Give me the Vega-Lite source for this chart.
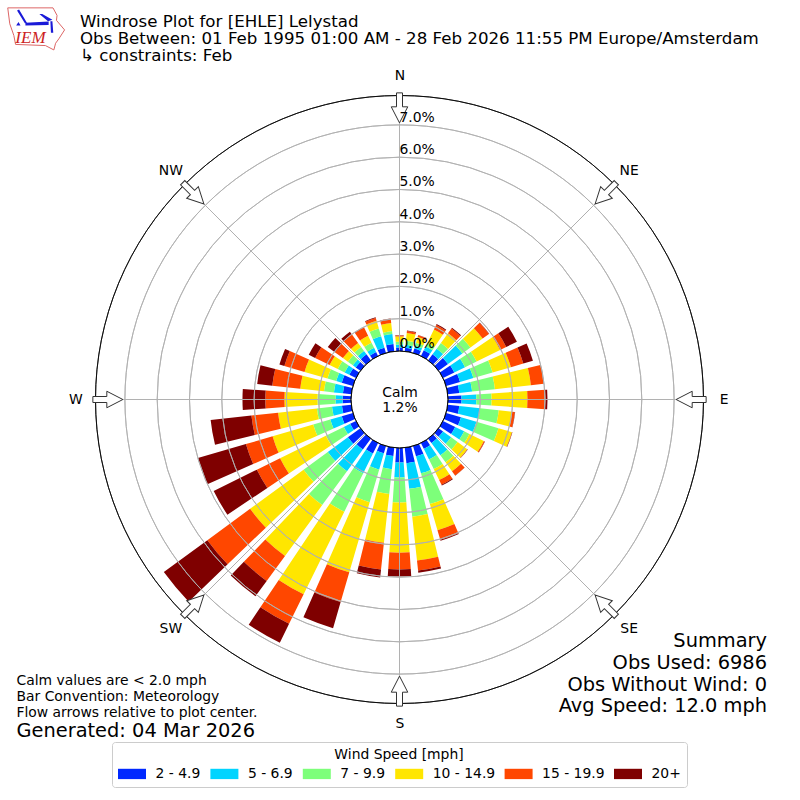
{
  "$schema": "https://vega.github.io/schema/vega-lite/v6.json",
  "width": 799,
  "height": 799,
  "padding": 0,
  "autosize": "none",
  "background": "white",
  "config": {"font": "DejaVu Sans", "view": {"stroke": null}},
  "title": {
    "text": ["Windrose Plot for [EHLE] Lelystad", "Obs Between: 01 Feb 1995 01:00 AM - 28 Feb 2026 11:55 PM Europe/Amsterdam", "\u00a0\u00a0↳ constraints: Feb"],
    "anchor": "start",
    "frame": "group",
    "dx": 80,
    "offset": -65,
    "font": "DejaVu Sans",
    "fontSize": 16.67,
    "fontWeight": "normal",
    "lineHeight": 17.4,
    "color": "black"
  },
  "datasets": {
    "bars": [
      {"dir":0,"from":-3.8,"to":3.8,"speed":"2 - 4.9","lo":0,"hi":0.11},{"dir":0,"from":-3.8,"to":3.8,"speed":"5 - 6.9","lo":0.11,"hi":0.2},{"dir":0,"from":-3.8,"to":3.8,"speed":"7 - 9.9","lo":0.2,"hi":0.29},{"dir":0,"from":-3.8,"to":3.8,"speed":"10 - 14.9","lo":0.29,"hi":0.45},{"dir":0,"from":-3.8,"to":3.8,"speed":"15 - 19.9","lo":0.45,"hi":0.48},{"dir":0,"from":-3.8,"to":3.8,"speed":"20+","lo":0.48,"hi":0.49},
      {"dir":10,"from":6.2,"to":13.8,"speed":"2 - 4.9","lo":0,"hi":0.11},{"dir":10,"from":6.2,"to":13.8,"speed":"5 - 6.9","lo":0.11,"hi":0.2},{"dir":10,"from":6.2,"to":13.8,"speed":"7 - 9.9","lo":0.2,"hi":0.33},{"dir":10,"from":6.2,"to":13.8,"speed":"10 - 14.9","lo":0.33,"hi":0.57},{"dir":10,"from":6.2,"to":13.8,"speed":"15 - 19.9","lo":0.57,"hi":0.63},{"dir":10,"from":6.2,"to":13.8,"speed":"20+","lo":0.63,"hi":0.65},
      {"dir":20,"from":16.2,"to":23.8,"speed":"2 - 4.9","lo":0,"hi":0.14},{"dir":20,"from":16.2,"to":23.8,"speed":"5 - 6.9","lo":0.14,"hi":0.23},{"dir":20,"from":16.2,"to":23.8,"speed":"7 - 9.9","lo":0.23,"hi":0.33},{"dir":20,"from":16.2,"to":23.8,"speed":"10 - 14.9","lo":0.33,"hi":0.51},{"dir":20,"from":16.2,"to":23.8,"speed":"15 - 19.9","lo":0.51,"hi":0.57},{"dir":20,"from":16.2,"to":23.8,"speed":"20+","lo":0.57,"hi":0.58},
      {"dir":30,"from":26.2,"to":33.8,"speed":"2 - 4.9","lo":0,"hi":0.2},{"dir":30,"from":26.2,"to":33.8,"speed":"5 - 6.9","lo":0.2,"hi":0.33},{"dir":30,"from":26.2,"to":33.8,"speed":"7 - 9.9","lo":0.33,"hi":0.45},{"dir":30,"from":26.2,"to":33.8,"speed":"10 - 14.9","lo":0.45,"hi":0.91},{"dir":30,"from":26.2,"to":33.8,"speed":"15 - 19.9","lo":0.91,"hi":1.07},{"dir":30,"from":26.2,"to":33.8,"speed":"20+","lo":1.07,"hi":1.1},
      {"dir":40,"from":36.2,"to":43.8,"speed":"2 - 4.9","lo":0,"hi":0.23},{"dir":40,"from":36.2,"to":43.8,"speed":"5 - 6.9","lo":0.23,"hi":0.45},{"dir":40,"from":36.2,"to":43.8,"speed":"7 - 9.9","lo":0.45,"hi":0.67},{"dir":40,"from":36.2,"to":43.8,"speed":"10 - 14.9","lo":0.67,"hi":1.04},{"dir":40,"from":36.2,"to":43.8,"speed":"15 - 19.9","lo":1.04,"hi":1.22},{"dir":40,"from":36.2,"to":43.8,"speed":"20+","lo":1.22,"hi":1.25},
      {"dir":50,"from":46.2,"to":53.8,"speed":"2 - 4.9","lo":0,"hi":0.36},{"dir":50,"from":46.2,"to":53.8,"speed":"5 - 6.9","lo":0.36,"hi":0.91},{"dir":50,"from":46.2,"to":53.8,"speed":"7 - 9.9","lo":0.91,"hi":1.22},{"dir":50,"from":46.2,"to":53.8,"speed":"10 - 14.9","lo":1.22,"hi":1.69},{"dir":50,"from":46.2,"to":53.8,"speed":"15 - 19.9","lo":1.69,"hi":1.93},{"dir":50,"from":46.2,"to":53.8,"speed":"20+","lo":1.93,"hi":1.94},
      {"dir":60,"from":56.2,"to":63.8,"speed":"2 - 4.9","lo":0,"hi":0.39},{"dir":60,"from":56.2,"to":63.8,"speed":"5 - 6.9","lo":0.39,"hi":0.76},{"dir":60,"from":56.2,"to":63.8,"speed":"7 - 9.9","lo":0.76,"hi":1.16},{"dir":60,"from":56.2,"to":63.8,"speed":"10 - 14.9","lo":1.16,"hi":1.97},{"dir":60,"from":56.2,"to":63.8,"speed":"15 - 19.9","lo":1.97,"hi":2.18},{"dir":60,"from":56.2,"to":63.8,"speed":"20+","lo":2.18,"hi":2.55},
      {"dir":70,"from":66.2,"to":73.8,"speed":"2 - 4.9","lo":0,"hi":0.45},{"dir":70,"from":66.2,"to":73.8,"speed":"5 - 6.9","lo":0.45,"hi":0.88},{"dir":70,"from":66.2,"to":73.8,"speed":"7 - 9.9","lo":0.88,"hi":1.5},{"dir":70,"from":66.2,"to":73.8,"speed":"10 - 14.9","lo":1.5,"hi":2.09},{"dir":70,"from":66.2,"to":73.8,"speed":"15 - 19.9","lo":2.09,"hi":2.49},{"dir":70,"from":66.2,"to":73.8,"speed":"20+","lo":2.49,"hi":2.8},
      {"dir":80,"from":76.2,"to":83.8,"speed":"2 - 4.9","lo":0,"hi":0.36},{"dir":80,"from":76.2,"to":83.8,"speed":"5 - 6.9","lo":0.36,"hi":0.76},{"dir":80,"from":76.2,"to":83.8,"speed":"7 - 9.9","lo":0.76,"hi":1.47},{"dir":80,"from":76.2,"to":83.8,"speed":"10 - 14.9","lo":1.47,"hi":2.59},{"dir":80,"from":76.2,"to":83.8,"speed":"15 - 19.9","lo":2.59,"hi":2.99},{"dir":80,"from":76.2,"to":83.8,"speed":"20+","lo":2.99,"hi":3.0},
      {"dir":90,"from":86.2,"to":93.8,"speed":"2 - 4.9","lo":0,"hi":0.42},{"dir":90,"from":86.2,"to":93.8,"speed":"5 - 6.9","lo":0.42,"hi":0.88},{"dir":90,"from":86.2,"to":93.8,"speed":"7 - 9.9","lo":0.88,"hi":1.35},{"dir":90,"from":86.2,"to":93.8,"speed":"10 - 14.9","lo":1.35,"hi":2.46},{"dir":90,"from":86.2,"to":93.8,"speed":"15 - 19.9","lo":2.46,"hi":3.02},{"dir":90,"from":86.2,"to":93.8,"speed":"20+","lo":3.02,"hi":3.08},
      {"dir":100,"from":96.2,"to":103.8,"speed":"2 - 4.9","lo":0,"hi":0.36},{"dir":100,"from":96.2,"to":103.8,"speed":"5 - 6.9","lo":0.36,"hi":1.01},{"dir":100,"from":96.2,"to":103.8,"speed":"7 - 9.9","lo":1.01,"hi":1.59},{"dir":100,"from":96.2,"to":103.8,"speed":"10 - 14.9","lo":1.59,"hi":2.0},{"dir":100,"from":96.2,"to":103.8,"speed":"15 - 19.9","lo":2.0,"hi":2.09},{"dir":100,"from":96.2,"to":103.8,"speed":"20+","lo":2.09,"hi":2.1},
      {"dir":110,"from":106.2,"to":113.8,"speed":"2 - 4.9","lo":0,"hi":0.48},{"dir":110,"from":106.2,"to":113.8,"speed":"5 - 6.9","lo":0.48,"hi":0.98},{"dir":110,"from":106.2,"to":113.8,"speed":"7 - 9.9","lo":0.98,"hi":1.69},{"dir":110,"from":106.2,"to":113.8,"speed":"10 - 14.9","lo":1.69,"hi":2.12},{"dir":110,"from":106.2,"to":113.8,"speed":"15 - 19.9","lo":2.12,"hi":2.13},{"dir":110,"from":106.2,"to":113.8,"speed":"20+","lo":2.13,"hi":2.14},
      {"dir":120,"from":116.2,"to":123.8,"speed":"2 - 4.9","lo":0,"hi":0.42},{"dir":120,"from":116.2,"to":123.8,"speed":"5 - 6.9","lo":0.42,"hi":0.73},{"dir":120,"from":116.2,"to":123.8,"speed":"7 - 9.9","lo":0.73,"hi":0.91},{"dir":120,"from":116.2,"to":123.8,"speed":"10 - 14.9","lo":0.91,"hi":1.41},{"dir":120,"from":116.2,"to":123.8,"speed":"15 - 19.9","lo":1.41,"hi":1.44},{"dir":120,"from":116.2,"to":123.8,"speed":"20+","lo":1.44,"hi":1.45},
      {"dir":130,"from":126.2,"to":133.8,"speed":"2 - 4.9","lo":0,"hi":0.17},{"dir":130,"from":126.2,"to":133.8,"speed":"5 - 6.9","lo":0.17,"hi":0.48},{"dir":130,"from":126.2,"to":133.8,"speed":"7 - 9.9","lo":0.48,"hi":0.73},{"dir":130,"from":126.2,"to":133.8,"speed":"10 - 14.9","lo":0.73,"hi":1.1},{"dir":130,"from":126.2,"to":133.8,"speed":"15 - 19.9","lo":1.1,"hi":1.11},{"dir":130,"from":126.2,"to":133.8,"speed":"20+","lo":1.11,"hi":1.12},
      {"dir":140,"from":136.2,"to":143.8,"speed":"2 - 4.9","lo":0,"hi":0.17},{"dir":140,"from":136.2,"to":143.8,"speed":"5 - 6.9","lo":0.17,"hi":0.64},{"dir":140,"from":136.2,"to":143.8,"speed":"7 - 9.9","lo":0.64,"hi":0.91},{"dir":140,"from":136.2,"to":143.8,"speed":"10 - 14.9","lo":0.91,"hi":1.25},{"dir":140,"from":136.2,"to":143.8,"speed":"15 - 19.9","lo":1.25,"hi":1.41},{"dir":140,"from":136.2,"to":143.8,"speed":"20+","lo":1.41,"hi":1.42},
      {"dir":150,"from":146.2,"to":153.8,"speed":"2 - 4.9","lo":0,"hi":0.2},{"dir":150,"from":146.2,"to":153.8,"speed":"5 - 6.9","lo":0.2,"hi":0.57},{"dir":150,"from":146.2,"to":153.8,"speed":"7 - 9.9","lo":0.57,"hi":0.9},{"dir":150,"from":146.2,"to":153.8,"speed":"10 - 14.9","lo":0.9,"hi":1.28},{"dir":150,"from":146.2,"to":153.8,"speed":"15 - 19.9","lo":1.28,"hi":1.44},{"dir":150,"from":146.2,"to":153.8,"speed":"20+","lo":1.44,"hi":1.47},
      {"dir":160,"from":156.2,"to":163.8,"speed":"2 - 4.9","lo":0,"hi":0.33},{"dir":160,"from":156.2,"to":163.8,"speed":"5 - 6.9","lo":0.33,"hi":0.88},{"dir":160,"from":156.2,"to":163.8,"speed":"7 - 9.9","lo":0.88,"hi":1.87},{"dir":160,"from":156.2,"to":163.8,"speed":"10 - 14.9","lo":1.87,"hi":2.71},{"dir":160,"from":156.2,"to":163.8,"speed":"15 - 19.9","lo":2.71,"hi":3.02},{"dir":160,"from":156.2,"to":163.8,"speed":"20+","lo":3.02,"hi":3.05},
      {"dir":170,"from":166.2,"to":173.8,"speed":"2 - 4.9","lo":0,"hi":0.48},{"dir":170,"from":166.2,"to":173.8,"speed":"5 - 6.9","lo":0.48,"hi":1.28},{"dir":170,"from":166.2,"to":173.8,"speed":"7 - 9.9","lo":1.28,"hi":2.15},{"dir":170,"from":166.2,"to":173.8,"speed":"10 - 14.9","lo":2.15,"hi":3.51},{"dir":170,"from":166.2,"to":173.8,"speed":"15 - 19.9","lo":3.51,"hi":3.82},{"dir":170,"from":166.2,"to":173.8,"speed":"20+","lo":3.82,"hi":3.89},
      {"dir":180,"from":176.2,"to":183.8,"speed":"2 - 4.9","lo":0,"hi":0.45},{"dir":180,"from":176.2,"to":183.8,"speed":"5 - 6.9","lo":0.45,"hi":0.91},{"dir":180,"from":176.2,"to":183.8,"speed":"7 - 9.9","lo":0.91,"hi":1.69},{"dir":180,"from":176.2,"to":183.8,"speed":"10 - 14.9","lo":1.69,"hi":3.24},{"dir":180,"from":176.2,"to":183.8,"speed":"15 - 19.9","lo":3.24,"hi":3.76},{"dir":180,"from":176.2,"to":183.8,"speed":"20+","lo":3.76,"hi":3.98},
      {"dir":190,"from":186.2,"to":193.8,"speed":"2 - 4.9","lo":0,"hi":0.26},{"dir":190,"from":186.2,"to":193.8,"speed":"5 - 6.9","lo":0.26,"hi":0.67},{"dir":190,"from":186.2,"to":193.8,"speed":"7 - 9.9","lo":0.67,"hi":1.44},{"dir":190,"from":186.2,"to":193.8,"speed":"10 - 14.9","lo":1.44,"hi":2.96},{"dir":190,"from":186.2,"to":193.8,"speed":"15 - 19.9","lo":2.96,"hi":3.79},{"dir":190,"from":186.2,"to":193.8,"speed":"20+","lo":3.79,"hi":4.04},
      {"dir":200,"from":196.2,"to":203.8,"speed":"2 - 4.9","lo":0,"hi":0.23},{"dir":200,"from":196.2,"to":203.8,"speed":"5 - 6.9","lo":0.23,"hi":0.76},{"dir":200,"from":196.2,"to":203.8,"speed":"7 - 9.9","lo":0.76,"hi":1.81},{"dir":200,"from":196.2,"to":203.8,"speed":"10 - 14.9","lo":1.81,"hi":4.07},{"dir":200,"from":196.2,"to":203.8,"speed":"15 - 19.9","lo":4.07,"hi":5.03},{"dir":200,"from":196.2,"to":203.8,"speed":"20+","lo":5.03,"hi":5.87},
      {"dir":210,"from":206.2,"to":213.8,"speed":"2 - 4.9","lo":0,"hi":0.36},{"dir":210,"from":206.2,"to":213.8,"speed":"5 - 6.9","lo":0.36,"hi":1.04},{"dir":210,"from":206.2,"to":213.8,"speed":"7 - 9.9","lo":1.04,"hi":2.37},{"dir":210,"from":206.2,"to":213.8,"speed":"10 - 14.9","lo":2.37,"hi":5.22},{"dir":210,"from":206.2,"to":213.8,"speed":"15 - 19.9","lo":5.22,"hi":6.24},{"dir":210,"from":206.2,"to":213.8,"speed":"20+","lo":6.24,"hi":6.89},
      {"dir":220,"from":216.2,"to":223.8,"speed":"2 - 4.9","lo":0,"hi":0.42},{"dir":220,"from":216.2,"to":223.8,"speed":"5 - 6.9","lo":0.42,"hi":1.25},{"dir":220,"from":216.2,"to":223.8,"speed":"7 - 9.9","lo":1.25,"hi":2.55},{"dir":220,"from":216.2,"to":223.8,"speed":"10 - 14.9","lo":2.55,"hi":4.5},{"dir":220,"from":216.2,"to":223.8,"speed":"15 - 19.9","lo":4.5,"hi":5.46},{"dir":220,"from":216.2,"to":223.8,"speed":"20+","lo":5.46,"hi":6.05},
      {"dir":230,"from":226.2,"to":233.8,"speed":"2 - 4.9","lo":0,"hi":0.48},{"dir":230,"from":226.2,"to":233.8,"speed":"5 - 6.9","lo":0.48,"hi":1.25},{"dir":230,"from":226.2,"to":233.8,"speed":"7 - 9.9","lo":1.25,"hi":2.18},{"dir":230,"from":226.2,"to":233.8,"speed":"10 - 14.9","lo":2.18,"hi":4.23},{"dir":230,"from":226.2,"to":233.8,"speed":"15 - 19.9","lo":4.23,"hi":5.87},{"dir":230,"from":226.2,"to":233.8,"speed":"20+","lo":5.87,"hi":7.54},
      {"dir":240,"from":236.2,"to":243.8,"speed":"2 - 4.9","lo":0,"hi":0.2},{"dir":240,"from":236.2,"to":243.8,"speed":"5 - 6.9","lo":0.2,"hi":0.42},{"dir":240,"from":236.2,"to":243.8,"speed":"7 - 9.9","lo":0.42,"hi":1.04},{"dir":240,"from":236.2,"to":243.8,"speed":"10 - 14.9","lo":1.04,"hi":2.62},{"dir":240,"from":236.2,"to":243.8,"speed":"15 - 19.9","lo":2.62,"hi":3.42},{"dir":240,"from":236.2,"to":243.8,"speed":"20+","lo":3.42,"hi":4.91},
      {"dir":250,"from":246.2,"to":253.8,"speed":"2 - 4.9","lo":0,"hi":0.36},{"dir":250,"from":246.2,"to":253.8,"speed":"5 - 6.9","lo":0.36,"hi":0.73},{"dir":250,"from":246.2,"to":253.8,"speed":"7 - 9.9","lo":0.73,"hi":1.28},{"dir":250,"from":246.2,"to":253.8,"speed":"10 - 14.9","lo":1.28,"hi":2.59},{"dir":250,"from":246.2,"to":253.8,"speed":"15 - 19.9","lo":2.59,"hi":3.45},{"dir":250,"from":246.2,"to":253.8,"speed":"20+","lo":3.45,"hi":5.0},
      {"dir":260,"from":256.2,"to":263.8,"speed":"2 - 4.9","lo":0,"hi":0.29},{"dir":260,"from":256.2,"to":263.8,"speed":"5 - 6.9","lo":0.29,"hi":0.6},{"dir":260,"from":256.2,"to":263.8,"speed":"7 - 9.9","lo":0.6,"hi":1.07},{"dir":260,"from":256.2,"to":263.8,"speed":"10 - 14.9","lo":1.07,"hi":2.28},{"dir":260,"from":256.2,"to":263.8,"speed":"15 - 19.9","lo":2.28,"hi":3.11},{"dir":260,"from":256.2,"to":263.8,"speed":"20+","lo":3.11,"hi":4.38},
      {"dir":270,"from":266.2,"to":273.8,"speed":"2 - 4.9","lo":0,"hi":0.26},{"dir":270,"from":266.2,"to":273.8,"speed":"5 - 6.9","lo":0.26,"hi":0.48},{"dir":270,"from":266.2,"to":273.8,"speed":"7 - 9.9","lo":0.48,"hi":1.04},{"dir":270,"from":266.2,"to":273.8,"speed":"10 - 14.9","lo":1.04,"hi":2.06},{"dir":270,"from":266.2,"to":273.8,"speed":"15 - 19.9","lo":2.06,"hi":2.65},{"dir":270,"from":266.2,"to":273.8,"speed":"20+","lo":2.65,"hi":3.36},
      {"dir":280,"from":276.2,"to":283.8,"speed":"2 - 4.9","lo":0,"hi":0.26},{"dir":280,"from":276.2,"to":283.8,"speed":"5 - 6.9","lo":0.26,"hi":0.54},{"dir":280,"from":276.2,"to":283.8,"speed":"7 - 9.9","lo":0.54,"hi":0.85},{"dir":280,"from":276.2,"to":283.8,"speed":"10 - 14.9","lo":0.85,"hi":1.59},{"dir":280,"from":276.2,"to":283.8,"speed":"15 - 19.9","lo":1.59,"hi":2.46},{"dir":280,"from":276.2,"to":283.8,"speed":"20+","lo":2.46,"hi":2.93},
      {"dir":290,"from":286.2,"to":293.8,"speed":"2 - 4.9","lo":0,"hi":0.36},{"dir":290,"from":286.2,"to":293.8,"speed":"5 - 6.9","lo":0.36,"hi":0.54},{"dir":290,"from":286.2,"to":293.8,"speed":"7 - 9.9","lo":0.54,"hi":0.82},{"dir":290,"from":286.2,"to":293.8,"speed":"10 - 14.9","lo":0.82,"hi":1.56},{"dir":290,"from":286.2,"to":293.8,"speed":"15 - 19.9","lo":1.56,"hi":2.21},{"dir":290,"from":286.2,"to":293.8,"speed":"20+","lo":2.21,"hi":2.37},
      {"dir":300,"from":296.2,"to":303.8,"speed":"2 - 4.9","lo":0,"hi":0.23},{"dir":300,"from":296.2,"to":303.8,"speed":"5 - 6.9","lo":0.23,"hi":0.39},{"dir":300,"from":296.2,"to":303.8,"speed":"7 - 9.9","lo":0.39,"hi":0.63},{"dir":300,"from":296.2,"to":303.8,"speed":"10 - 14.9","lo":0.63,"hi":0.91},{"dir":300,"from":296.2,"to":303.8,"speed":"15 - 19.9","lo":0.91,"hi":1.41},{"dir":300,"from":296.2,"to":303.8,"speed":"20+","lo":1.41,"hi":1.63},
      {"dir":310,"from":306.2,"to":313.8,"speed":"2 - 4.9","lo":0,"hi":0.18},{"dir":310,"from":306.2,"to":313.8,"speed":"5 - 6.9","lo":0.18,"hi":0.29},{"dir":310,"from":306.2,"to":313.8,"speed":"7 - 9.9","lo":0.29,"hi":0.48},{"dir":310,"from":306.2,"to":313.8,"speed":"10 - 14.9","lo":0.48,"hi":0.67},{"dir":310,"from":306.2,"to":313.8,"speed":"15 - 19.9","lo":0.67,"hi":0.98},{"dir":310,"from":306.2,"to":313.8,"speed":"20+","lo":0.98,"hi":1.25},
      {"dir":320,"from":316.2,"to":323.8,"speed":"2 - 4.9","lo":0,"hi":0.23},{"dir":320,"from":316.2,"to":323.8,"speed":"5 - 6.9","lo":0.23,"hi":0.36},{"dir":320,"from":316.2,"to":323.8,"speed":"7 - 9.9","lo":0.36,"hi":0.51},{"dir":320,"from":316.2,"to":323.8,"speed":"10 - 14.9","lo":0.51,"hi":0.67},{"dir":320,"from":316.2,"to":323.8,"speed":"15 - 19.9","lo":0.67,"hi":1.01},{"dir":320,"from":316.2,"to":323.8,"speed":"20+","lo":1.01,"hi":1.1},
      {"dir":330,"from":326.2,"to":333.8,"speed":"2 - 4.9","lo":0,"hi":0.14},{"dir":330,"from":326.2,"to":333.8,"speed":"5 - 6.9","lo":0.14,"hi":0.28},{"dir":330,"from":326.2,"to":333.8,"speed":"7 - 9.9","lo":0.28,"hi":0.46},{"dir":330,"from":326.2,"to":333.8,"speed":"10 - 14.9","lo":0.46,"hi":0.7},{"dir":330,"from":326.2,"to":333.8,"speed":"15 - 19.9","lo":0.7,"hi":0.98},{"dir":330,"from":326.2,"to":333.8,"speed":"20+","lo":0.98,"hi":0.99},
      {"dir":340,"from":336.2,"to":343.8,"speed":"2 - 4.9","lo":0,"hi":0.17},{"dir":340,"from":336.2,"to":343.8,"speed":"5 - 6.9","lo":0.17,"hi":0.54},{"dir":340,"from":336.2,"to":343.8,"speed":"7 - 9.9","lo":0.54,"hi":0.79},{"dir":340,"from":336.2,"to":343.8,"speed":"10 - 14.9","lo":0.79,"hi":1.04},{"dir":340,"from":336.2,"to":343.8,"speed":"15 - 19.9","lo":1.04,"hi":1.13},{"dir":340,"from":336.2,"to":343.8,"speed":"20+","lo":1.13,"hi":1.15},
      {"dir":350,"from":346.2,"to":353.8,"speed":"2 - 4.9","lo":0,"hi":0.23},{"dir":350,"from":346.2,"to":353.8,"speed":"5 - 6.9","lo":0.23,"hi":0.54},{"dir":350,"from":346.2,"to":353.8,"speed":"7 - 9.9","lo":0.54,"hi":0.63},{"dir":350,"from":346.2,"to":353.8,"speed":"10 - 14.9","lo":0.63,"hi":0.88},{"dir":350,"from":346.2,"to":353.8,"speed":"15 - 19.9","lo":0.88,"hi":1.01},{"dir":350,"from":346.2,"to":353.8,"speed":"20+","lo":1.01,"hi":1.02}
    ]
  },
  "layer": [
    {
      "data": {"name": "bars"},
      "mark": {"type": "arc"},
      "encoding": {
        "theta": {"field": "from", "type": "quantitative", "scale": {"domain": [0, 360], "range": [0, 6.283185]}},
        "theta2": {"field": "to"},
        "radius": {"field": "hi", "type": "quantitative", "scale": {"domain": [0, 7.91], "range": [48.5, 304]}},
        "radius2": {"field": "lo"},
        "color": {
          "field": "speed",
          "type": "nominal",
          "scale": {
            "domain": ["2 - 4.9", "5 - 6.9", "7 - 9.9", "10 - 14.9", "15 - 19.9", "20+"],
            "range": ["#0028ff", "#00d4ff", "#7dff7a", "#ffe600", "#ff4700", "#7f0000"]
          },
          "legend": {
            "title": "Wind Speed [mph]",
            "orient": "none",
            "legendX": 112,
            "legendY": 742,
            "direction": "horizontal",
            "columns": 6,
            "symbolType": "M-1,-0.43L1.333,-0.43L1.333,0.43L-1,0.43Z",
            "symbolSize": 576,
            "symbolStrokeWidth": 0,
            "columnPadding": 9.4,
            "labelOffset": 13.5,
            "labelFontSize": 13.9,
            "titleFontSize": 13.9,
            "titleFontWeight": "normal",
            "titleAnchor": "middle",
            "titlePadding": 0,
            "titleColor": "black",
            "labelColor": "black",
            "fillColor": "white",
            "strokeColor": "#cccccc",
            "cornerRadius": 3,
            "padding": 6
          }
        }
      }
    },
    {
      "data": {"values": [{"pct":1,"from":0,"to":360},{"pct":2,"from":0,"to":360},{"pct":3,"from":0,"to":360},{"pct":4,"from":0,"to":360},{"pct":5,"from":0,"to":360},{"pct":6,"from":0,"to":360},{"pct":7,"from":0,"to":360}]},
      "mark": {"type": "arc", "fill": null, "stroke": "#b0b0b0", "strokeWidth": 0.9},
      "encoding": {
        "theta": {"field": "from", "type": "quantitative"},
        "theta2": {"field": "to"},
        "radius": {"field": "pct", "type": "quantitative"},
        "radius2": {"field": "pct"}
      }
    },
    {
      "data": {"values": [{"dir":0,"r0":0,"r1":7.91},{"dir":45,"r0":0,"r1":7.91},{"dir":90,"r0":0,"r1":7.91},{"dir":135,"r0":0,"r1":7.91},{"dir":180,"r0":0,"r1":7.91},{"dir":225,"r0":0,"r1":7.91},{"dir":270,"r0":0,"r1":7.91},{"dir":315,"r0":0,"r1":7.91}]},
      "mark": {"type": "arc", "fill": null, "stroke": "#b0b0b0", "strokeWidth": 0.9},
      "encoding": {
        "theta": {"field": "dir", "type": "quantitative"},
        "theta2": {"field": "dir"},
        "radius": {"field": "r1", "type": "quantitative"},
        "radius2": {"field": "r0"}
      }
    },
    {
      "data": {"values": [{"pct":0,"from":0,"to":360},{"pct":7.91,"from":0,"to":360}]},
      "mark": {"type": "arc", "fill": null, "stroke": "black", "strokeWidth": 0.8},
      "encoding": {
        "theta": {"field": "from", "type": "quantitative"},
        "theta2": {"field": "to"},
        "radius": {"field": "pct", "type": "quantitative"},
        "radius2": {"field": "pct"}
      }
    },
    {
      "data": {"values": [{"dir":0,"x":0,"y":-292},{"dir":45,"x":206.5,"y":-206.5},{"dir":90,"x":292,"y":0},{"dir":135,"x":206.5,"y":206.5},{"dir":180,"x":0,"y":292},{"dir":225,"x":-206.5,"y":206.5},{"dir":270,"x":-292,"y":0},{"dir":315,"x":-206.5,"y":-206.5}]},
      "mark": {"type": "point", "filled": true, "fill": "white", "fillOpacity": 1, "stroke": "#333333", "strokeWidth": 1, "opacity": 1, "size": 900, "shape": "M-0.2,-1L0.2,-1L0.2,-0.07L0.55,-0.07L0,1L-0.55,-0.07L-0.2,-0.07Z"},
      "encoding": {
        "x": {"field": "x", "type": "quantitative", "axis": null, "scale": {"domain": [-399.5, 399.5], "range": [0, 799]}},
        "y": {"field": "y", "type": "quantitative", "axis": null, "scale": {"domain": [-399.5, 399.5], "range": [0, 799]}},
        "angle": {"field": "dir", "type": "quantitative", "scale": null}
      }
    },
    {
      "data": {"values": [{"dir":0,"pct":0,"label":"0.0%"},{"dir":0,"pct":1,"label":"1.0%"},{"dir":0,"pct":2,"label":"2.0%"},{"dir":0,"pct":3,"label":"3.0%"},{"dir":0,"pct":4,"label":"4.0%"},{"dir":0,"pct":5,"label":"5.0%"},{"dir":0,"pct":6,"label":"6.0%"},{"dir":0,"pct":7,"label":"7.0%"}]},
      "mark": {"type": "text", "align": "left", "baseline": "bottom", "fontSize": 13.9, "dx": 0, "dy": 0, "color": "black"},
      "encoding": {
        "theta": {"field": "dir", "type": "quantitative"},
        "radius": {"field": "pct", "type": "quantitative"},
        "text": {"field": "label"}
      }
    },
    {
      "data": {"values": [{"dir":0,"r":8.53,"label":"N"},{"dir":45,"r":8.53,"label":"NE"},{"dir":90,"r":8.53,"label":"E"},{"dir":135,"r":8.53,"label":"SE"},{"dir":180,"r":8.53,"label":"S"},{"dir":225,"r":8.53,"label":"SW"},{"dir":270,"r":8.53,"label":"W"},{"dir":315,"r":8.53,"label":"NW"}]},
      "mark": {"type": "text", "align": "center", "baseline": "middle", "fontSize": 13.9, "dx": 0.5, "dy": 0.5, "color": "black"},
      "encoding": {
        "theta": {"field": "dir", "type": "quantitative"},
        "radius": {"field": "r", "type": "quantitative"},
        "text": {"field": "label"}
      }
    },
    {
      "data": {"values": [{"x":0.5,"y":-6.5,"label":"Calm"},{"x":0.5,"y":8.5,"label":"1.2%"}]},
      "mark": {"type": "text", "align": "center", "baseline": "middle", "fontSize": 13.9, "color": "black"},
      "encoding": {
        "x": {"field": "x", "type": "quantitative"},
        "y": {"field": "y", "type": "quantitative"},
        "text": {"field": "label"}
      }
    },
    {
      "data": {"values": [{"x":-383.5,"y":281.5,"label":"Calm values are < 2.0 mph"},{"x":-383.5,"y":298,"label":"Bar Convention: Meteorology"},{"x":-383.5,"y":313.5,"label":"Flow arrows relative to plot center."}]},
      "mark": {"type": "text", "align": "left", "baseline": "middle", "fontSize": 13.9, "color": "black"},
      "encoding": {
        "x": {"field": "x", "type": "quantitative"},
        "y": {"field": "y", "type": "quantitative"},
        "text": {"field": "label"}
      }
    },
    {
      "data": {"values": [{"x":-383.5,"y":331.5,"label":"Generated: 04 Mar 2026"}]},
      "mark": {"type": "text", "align": "left", "baseline": "middle", "fontSize": 19.4, "color": "black"},
      "encoding": {
        "x": {"field": "x", "type": "quantitative"},
        "y": {"field": "y", "type": "quantitative"},
        "text": {"field": "label"}
      }
    },
    {
      "data": {"values": [{"x":368,"y":241.5,"label":"Summary"},{"x":368,"y":263.5,"label":"Obs Used: 6986"},{"x":368,"y":285.5,"label":"Obs Without Wind: 0"},{"x":368,"y":306.5,"label":"Avg Speed: 12.0 mph"}]},
      "mark": {"type": "text", "align": "right", "baseline": "middle", "fontSize": 19.4, "color": "black"},
      "encoding": {
        "x": {"field": "x", "type": "quantitative"},
        "y": {"field": "y", "type": "quantitative"},
        "text": {"field": "label"}
      }
    },
    {
      "data": {"values": [{"x":-363.5,"y":-371.5}]},
      "mark": {"type": "point", "fill": null, "filled": false, "opacity": 1, "stroke": "#dd6666", "strokeWidth": 1, "size": 3364, "shape": "M-0.99,-0.71L0.57,-0.71L0.71,-0.45L0.69,-0.28L0.97,0.05L0.77,0.36L0.66,0.51L0.6,0.74L0.31,0.59L-0.72,0.55L-0.78,0.24L-0.92,-0.16Z"},
      "encoding": {
        "x": {"field": "x", "type": "quantitative"},
        "y": {"field": "y", "type": "quantitative"}
      }
    },
    {
      "data": {"values": [{"x":-363.5,"y":-371.5}]},
      "mark": {"type": "point", "filled": true, "fill": "#1a1ad8", "opacity": 1, "strokeWidth": 0, "size": 3364, "shape": "M-0.38,-0.2L0.42,-0.24L0.42,-0.12L-0.38,-0.1ZM-0.67,-0.62L-0.6,-0.65L-0.33,-0.2L-0.4,-0.18ZM0.1,-0.5L0.2,-0.5L0.55,-0.3L0.4,-0.25ZM0.48,-0.25L0.55,-0.25L0.58,0.15L0.5,0.15ZM-0.62,-0.22L-0.55,-0.1L-0.7,-0.1Z"},
      "encoding": {
        "x": {"field": "x", "type": "quantitative"},
        "y": {"field": "y", "type": "quantitative"}
      }
    },
    {
      "data": {"values": [{"x":-369.5,"y":-361.5,"label":"IEM"}]},
      "mark": {"type": "text", "align": "center", "baseline": "middle", "font": "Liberation Serif", "fontStyle": "italic", "fontSize": 17, "color": "#cc2222"},
      "encoding": {
        "x": {"field": "x", "type": "quantitative"},
        "y": {"field": "y", "type": "quantitative"},
        "text": {"field": "label"}
      }
    }
  ]
}
